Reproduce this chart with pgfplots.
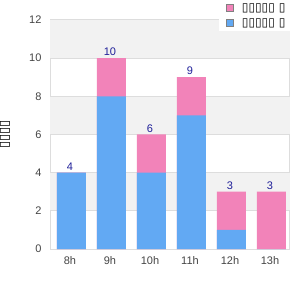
\documentclass[border=0pt]{standalone}
\usepackage{pgfplots}
\pgfplotsset{compat=1.18}
\usepackage{fontspec}
\setmainfont{Liberation Sans}
\newfontfamily\sym{DejaVu Sans}
\definecolor{barblue}{HTML}{62A9F3}
\definecolor{barpink}{HTML}{F283B9}
\definecolor{gridc}{HTML}{DDDDDD}
\definecolor{bandc}{HTML}{F2F2F2}
\definecolor{labc}{HTML}{1F1F99}
\definecolor{tickc}{HTML}{444444}
\begin{document}
\begin{tikzpicture}
\useasboundingbox (0,0) rectangle (300bp,300bp);
\begin{axis}[
 at={(50bp,51bp)}, anchor=south west,
 scale only axis, width=240bp, height=229bp,
 xmin=-0.5, xmax=5.5, ymin=0, ymax=12,
 ybar, bar shift=1.5bp, bar width=29bp,
 xtick={0,...,5}, xticklabels={8h,9h,10h,11h,12h,13h},
 ytick={0,2,...,12},
 major tick length=0,
 axis line style={gridc, line width=1bp},
 ticklabel style={font=\fontsize{11bp}{13bp}\selectfont, text=tickc},
 /pgf/number format/assume math mode=true,
 yticklabel style={xshift=-5bp},
 xticklabel style={yshift=-4bp},
 ylabel={\sym ▯▯▯▯},
 ylabel style={at={(axis description cs:-0.1875,0.5)}, anchor=center, font=\fontsize{13bp}{15bp}\selectfont},
 legend style={at={(0.704,1.0873)}, anchor=north west, draw=none, fill=white,
   font=\fontsize{12bp}{14bp}\selectfont, row sep=1.5bp, column sep=6bp,
   inner xsep=7bp, inner ysep=1.5bp},
 legend cell align=left,
 legend image code/.code={\draw[#1, draw=gray, line width=0.8bp] (0bp,-3.5bp) rectangle (7bp,3.5bp);},
]
\fill[bandc] (axis cs:-0.5,10) rectangle (axis cs:5.5,12);
\fill[bandc] (axis cs:-0.5,6) rectangle (axis cs:5.5,8);
\fill[bandc] (axis cs:-0.5,2) rectangle (axis cs:5.5,4);
\draw[gridc, line width=0.8bp] (axis cs:-0.5,2) -- (axis cs:5.5,2);
\draw[gridc, line width=0.8bp] (axis cs:-0.5,4) -- (axis cs:5.5,4);
\draw[gridc, line width=0.8bp] (axis cs:-0.5,6) -- (axis cs:5.5,6);
\draw[gridc, line width=0.8bp] (axis cs:-0.5,8) -- (axis cs:5.5,8);
\draw[gridc, line width=0.8bp] (axis cs:-0.5,10) -- (axis cs:5.5,10);
% totals (pink segment on top of blue)
\addplot[fill=barpink, draw=none, nodes near coords,
  every node near coord/.style={text=labc, font=\fontsize{11bp}{13bp}\selectfont, anchor=south, inner sep=2bp}]
  coordinates {(0,4) (1,10) (2,6) (3,9) (4,3) (5,3)};
% blue part
\addplot[fill=barblue, draw=none] coordinates {(0,4) (1,8) (2,4) (3,7) (4,1) (5,0)};
\legend{{\sym ▯▯▯▯▯ ▯},{\sym ▯▯▯▯▯ ▯}}
\end{axis}
\end{tikzpicture}
\end{document}
